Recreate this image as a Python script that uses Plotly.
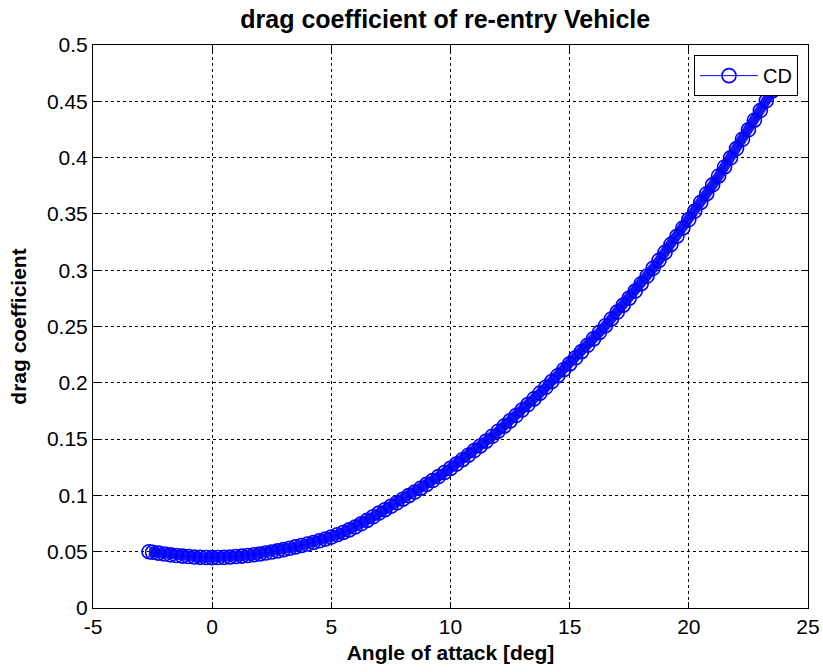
import plotly.graph_objects as go

alpha = [-2.65, -2.5, -2.25, -2.0, -1.75, -1.5, -1.25, -1.0, -0.75, -0.5, -0.25,
         0.0, 0.25, 0.5, 0.75, 1.0, 1.25, 1.5, 1.75, 2.0, 2.25, 2.5, 2.75,
         3.0, 3.25, 3.5, 3.75, 4.0, 4.25, 4.5, 4.75, 5.0, 5.25, 5.5, 5.75,
         6.0, 6.25, 6.5, 6.75, 7.0, 7.25, 7.5, 7.75, 8.0, 8.25, 8.5, 8.75,
         9.0, 9.25, 9.5, 9.75, 10.0, 10.25, 10.5, 10.75, 11.0, 11.25, 11.5, 11.75,
         12.0, 12.25, 12.5, 12.75, 13.0, 13.25, 13.5, 13.75, 14.0, 14.25, 14.5, 14.75,
         15.0, 15.25, 15.5, 15.75, 16.0, 16.25, 16.5, 16.75, 17.0, 17.25, 17.5, 17.75,
         18.0, 18.25, 18.5, 18.75, 19.0, 19.25, 19.5, 19.75, 20.0, 20.25, 20.5, 20.75,
         21.0, 21.25, 21.5, 21.75, 22.0, 22.25, 22.5, 22.75, 23.0, 23.25, 23.5, 23.75,
         24.0]

cd = [0.0500, 0.0495, 0.0487, 0.0479, 0.0472, 0.0466, 0.0461, 0.0457, 0.0453, 0.0450, 0.0448,
      0.0447, 0.0448, 0.0450, 0.0453, 0.0457, 0.0461, 0.0466, 0.0473, 0.0480, 0.0488, 0.0497, 0.0507,
      0.0518, 0.0530, 0.0543, 0.0555, 0.0568, 0.0582, 0.0597, 0.0613, 0.0630, 0.0650, 0.0671, 0.0694,
      0.0720, 0.0748, 0.0778, 0.0810, 0.0843, 0.0873, 0.0903, 0.0934, 0.0966, 0.0998, 0.1030, 0.1064,
      0.1098, 0.1132, 0.1167, 0.1203, 0.1240, 0.1278, 0.1317, 0.1357, 0.1398, 0.1439, 0.1482, 0.1525,
      0.1570, 0.1615, 0.1662, 0.1709, 0.1758, 0.1807, 0.1857, 0.1908, 0.1960, 0.2011, 0.2063, 0.2116,
      0.2168, 0.2222, 0.2277, 0.2333, 0.2390, 0.2448, 0.2507, 0.2567, 0.2628, 0.2690, 0.2752, 0.2815,
      0.2880, 0.2948, 0.3017, 0.3087, 0.3158, 0.3229, 0.3302, 0.3375, 0.3450, 0.3525, 0.3602, 0.3679,
      0.3758, 0.3837, 0.3917, 0.3998, 0.4080, 0.4163, 0.4247, 0.4332, 0.4418, 0.4504, 0.4592, 0.4680,
      0.4770]

x_ticks = [-5, 0, 5, 10, 15, 20, 25]
y_ticks = [0, 0.05, 0.1, 0.15, 0.2, 0.25, 0.3, 0.35, 0.4, 0.45, 0.5]
y_tick_labels = ["0", "0.05", "0.1", "0.15", "0.2", "0.25", "0.3", "0.35", "0.4", "0.45", "0.5"]

FONT = "Liberation Sans, Arial, sans-serif"
BLUE = "rgb(0,0,255)"

fig = go.Figure()
# solid core of the dense marker band (style only, same data)
fig.add_trace(go.Scatter(
    x=alpha, y=cd, mode="lines", showlegend=False, hoverinfo="skip",
    line=dict(color="rgb(20,20,255)", width=10),
))
fig.add_trace(go.Scatter(
    x=alpha, y=cd, name="CD", mode="lines+markers",
    line=dict(color=BLUE, width=1),
    marker=dict(symbol="circle-open", size=14, color=BLUE,
                line=dict(width=1.6, color=BLUE)),
))

axis_common = dict(
    showline=True, linecolor="black", linewidth=1, mirror="ticks",
    ticks="inside", ticklen=6, tickcolor="black",
    showgrid=True, gridcolor="black", gridwidth=1, griddash="dot",
    zeroline=False, automargin=False,
    tickfont=dict(family=FONT, size=21, color="black"),
)

fig.update_xaxes(range=[-5, 25], tickvals=x_ticks, ticktext=[str(v) for v in x_ticks],
                 title=dict(text="<b>Angle of attack [deg]</b>", standoff=8,
                            font=dict(family=FONT, size=21, color="black")),
                 **axis_common)
fig.update_yaxes(range=[0, 0.5], tickvals=y_ticks, ticktext=y_tick_labels,
                 title=dict(text="<b>drag coefficient</b>", standoff=14,
                            font=dict(family=FONT, size=21, color="black")),
                 **axis_common)

fig.update_layout(
    width=823, height=672,
    margin=dict(l=93, r=15, t=45, b=64),
    paper_bgcolor="white", plot_bgcolor="white",
    title=dict(text="<b>drag coefficient of re-entry Vehicle</b>", x=0.541, xanchor="center",
               y=0.972, yanchor="middle",
               font=dict(family=FONT, size=25, color="black")),
    showlegend=True,
    legend=dict(x=0.986, y=0.982, xanchor="right", yanchor="top",
                bgcolor="white", bordercolor="black", borderwidth=1,
                font=dict(family=FONT, size=20, color="black"),
                itemwidth=58),
)

fig.write_html("out.html")
